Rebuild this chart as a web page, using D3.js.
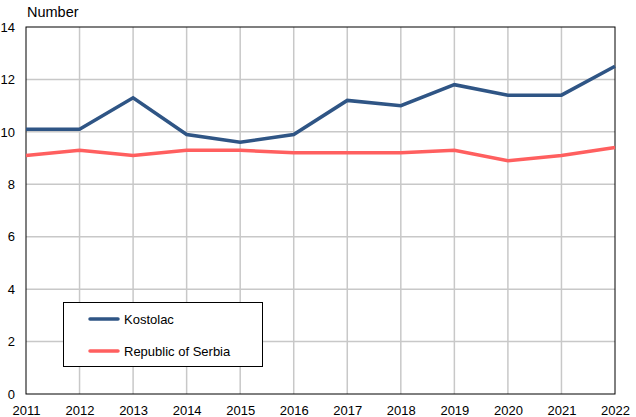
<!DOCTYPE html>
<html>
<head>
<meta charset="utf-8">
<script src="https://cdn.jsdelivr.net/npm/d3@7"></script>
<style>
  body { margin: 0; background: #fff; }
  svg { display: block; font-family: "Liberation Sans", Arial, sans-serif; }
</style>
</head>
<body>
<svg id="chart" width="636" height="417"></svg>
<script>
// Data
const years = [2011, 2012, 2013, 2014, 2015, 2016, 2017, 2018, 2019, 2020, 2021, 2022];
const kostolac = [10.1, 10.1, 11.3, 9.9, 9.6, 9.9, 11.2, 11.0, 11.8, 11.4, 11.4, 12.5];
const serbia = [9.1, 9.3, 9.1, 9.3, 9.3, 9.2, 9.2, 9.2, 9.3, 8.9, 9.1, 9.4];
const yTicks = [0, 2, 4, 6, 8, 10, 12, 14];
const seriesNames = ['Kostolac', 'Republic of Serbia'];
const seriesColors = ['#2f5585', '#ff5f5f'];

const svg = d3.select('#chart');
const m = { left: 26, right: 615, top: 27, bottom: 394 };

const x = d3.scaleLinear().domain([2011, 2022]).range([m.left, m.right]);
const y = d3.scaleLinear().domain([0, 14]).range([m.bottom, m.top]);

// grid
svg.append('g').selectAll('line.v')
  .data(years.slice(1, -1))
  .join('line')
  .attr('x1', d => x(d)).attr('x2', d => x(d))
  .attr('y1', m.top).attr('y2', m.bottom)
  .attr('stroke', '#c8c8c8').attr('stroke-width', 1.5);

svg.append('g').selectAll('line.h')
  .data(yTicks.slice(1, -1))
  .join('line')
  .attr('x1', m.left).attr('x2', m.right)
  .attr('y1', d => y(d)).attr('y2', d => y(d))
  .attr('stroke', '#c8c8c8').attr('stroke-width', 1.5);

// frame
svg.append('rect')
  .attr('x', m.left).attr('y', m.top)
  .attr('width', m.right - m.left).attr('height', m.bottom - m.top)
  .attr('fill', 'none').attr('stroke', '#000').attr('stroke-width', 1);

// axes labels
const yAxis = d3.axisLeft(y).tickValues(yTicks).tickSize(0).tickPadding(11);
svg.append('g').attr('transform', `translate(${m.left},0)`).call(yAxis)
  .call(g => g.select('.domain').remove())
  .selectAll('text')
  .attr('font-size', 13).attr('fill', '#000')
  .attr('font-family', '"Liberation Sans", Arial, sans-serif');

const xAxis = d3.axisBottom(x).tickValues(years).tickFormat(d3.format('d')).tickSize(0).tickPadding(12);
svg.append('g').attr('transform', `translate(0,${m.bottom})`).call(xAxis)
  .call(g => g.select('.domain').remove())
  .selectAll('text')
  .attr('font-size', 13).attr('fill', '#000')
  .attr('font-family', '"Liberation Sans", Arial, sans-serif');

svg.append('text')
  .attr('x', 27).attr('y', 17)
  .attr('font-size', 14.5)
  .text('Number');

// lines
const line = d3.line().x((d, i) => x(years[i])).y(d => y(d));
[kostolac, serbia].forEach((vals, i) => {
  svg.append('path')
    .datum(vals)
    .attr('d', line)
    .attr('fill', 'none')
    .attr('stroke', seriesColors[i])
    .attr('stroke-width', 3.5)
    .attr('stroke-linejoin', 'miter');
});

// legend
const lg = svg.append('g');
lg.append('rect')
  .attr('x', 63.5).attr('y', 302.5)
  .attr('width', 199).attr('height', 64)
  .attr('fill', '#fff').attr('stroke', '#000').attr('stroke-width', 1);
seriesNames.forEach((name, i) => {
  const ly = 319 + i * 32;
  lg.append('line')
    .attr('x1', 90).attr('x2', 118)
    .attr('y1', ly).attr('y2', ly)
    .attr('stroke', seriesColors[i]).attr('stroke-width', 3.5)
    .attr('stroke-linecap', 'round');
  lg.append('text')
    .attr('x', 124).attr('y', ly + 4.5)
    .attr('font-size', 13)
    .text(name);
});
</script>
</body>
</html>
